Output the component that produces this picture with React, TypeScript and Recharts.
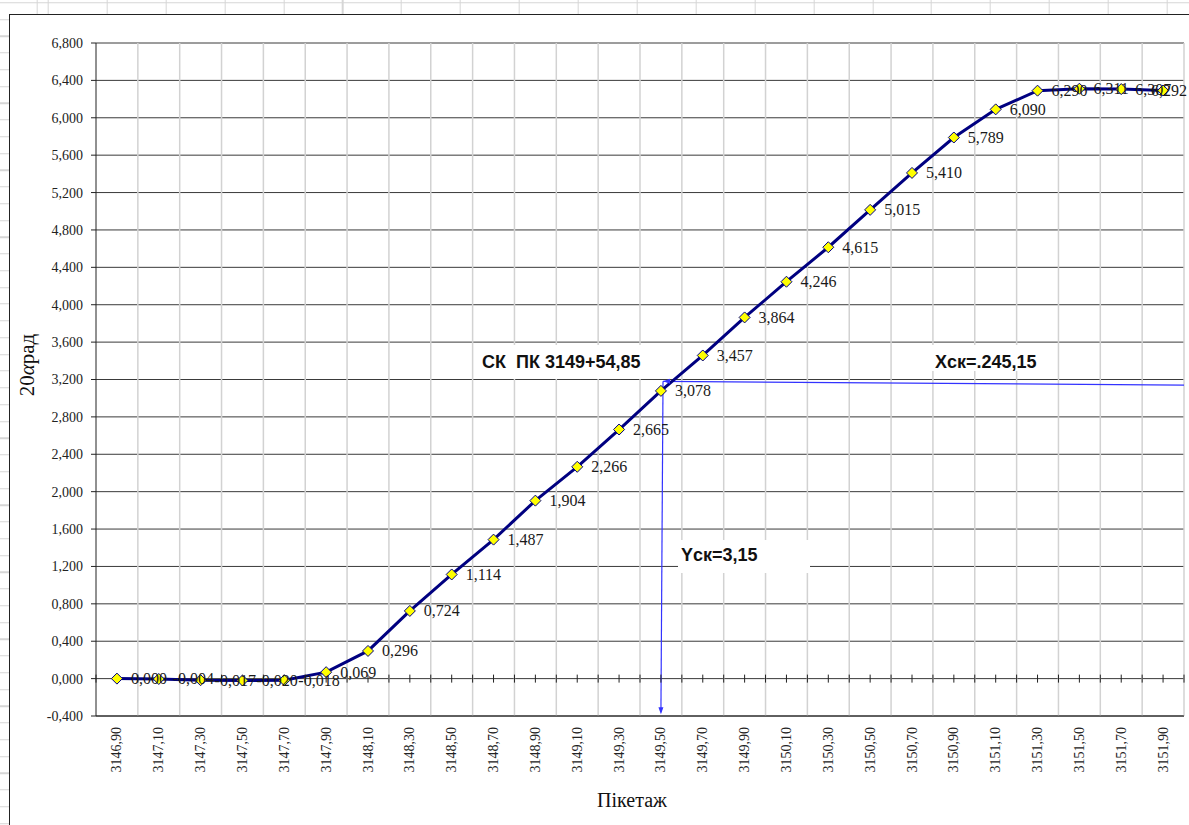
import React from 'react';
import {
  ComposedChart,
  Line,
  Scatter,
  XAxis,
  YAxis,
  CartesianGrid,
  ReferenceLine,
  ReferenceDot,
  LabelList,
} from 'recharts';

// ---- data ----
const stations = [
  '3146,90', '3147,10', '3147,30', '3147,50', '3147,70', '3147,90', '3148,10',
  '3148,30', '3148,50', '3148,70', '3148,90', '3149,10', '3149,30', '3149,50',
  '3149,70', '3149,90', '3150,10', '3150,30', '3150,50', '3150,70', '3150,90',
  '3151,10', '3151,30', '3151,50', '3151,70', '3151,90',
];
const angleValues = [
  0.0, -0.004, -0.017, -0.02, -0.018, 0.069, 0.296, 0.724, 1.114, 1.487, 1.904,
  2.266, 2.665, 3.078, 3.457, 3.864, 4.246, 4.615, 5.015, 5.41, 5.789, 6.09,
  6.29, 6.311, 6.307, 6.292,
];
const yTicks = [
  -0.4, 0, 0.4, 0.8, 1.2, 1.6, 2.0, 2.4, 2.8, 3.2, 3.6, 4.0, 4.4, 4.8, 5.2, 5.6,
  6.0, 6.4, 6.8,
];
// annotation anchors (category index units / value units)
const skStart = { x: 13.05, y: 3.18 };
const skRightEnd = { x: 25.5, y: 3.14 };
const skBottomEnd = { x: 13.0, y: -0.36 };

const rows = stations.map((s, i) => ({ idx: i, station: s, value: angleValues[i] }));
const boundaries = stations.map((_, i) => i + 0.5);
const crossTicks = stations
  .flatMap((_, i) => [i - 0.5, i])
  .concat([stations.length - 0.5])
  .map((p) => ({ idx: p, value: 0 }));

const fmt = (v: number) => v.toFixed(3).replace('.', ',');

const SERIF = "'Liberation Serif', 'Times New Roman', serif";
const SANS = "'Liberation Sans', Arial, sans-serif";
const BLUE = '#3333ff';
const CHART_W = 1189;

const Diamond = (props: any) => {
  const { cx, cy } = props;
  if (cx == null || cy == null) return null;
  const r = 5.5;
  return (
    <polygon
      points={`${cx},${cy - r} ${cx + r},${cy} ${cx},${cy + r} ${cx - r},${cy}`}
      fill="#ffff00"
      stroke="#000080"
      strokeWidth={1}
    />
  );
};

const TickMark = (props: any) => {
  const { cx, cy } = props;
  if (cx == null || cy == null) return null;
  return <line x1={cx} x2={cx} y1={cy - 4} y2={cy + 4} stroke="#222" strokeWidth={1} />;
};

const StationTick = (props: any) => {
  const { x, y, payload } = props;
  const ty = y + 11;
  return (
    <text
      x={x}
      y={ty}
      transform={`rotate(-90 ${x} ${ty})`}
      textAnchor="end"
      dominantBaseline="central"
      fontFamily={SERIF}
      fontSize={14}
      fill="#222"
    >
      {stations[payload.value]}
    </text>
  );
};

const ValueLabel = (props: any) => {
  const x = props.x ?? props.viewBox?.x;
  const y = props.y ?? props.viewBox?.y;
  if (x == null || y == null) return null;
  const txt = fmt(Number(props.value));
  const approxW = txt.length * 7.4;
  // keep the label inside the chart area like the spreadsheet does
  const lx = Math.min(x + 14, CHART_W - 1 - approxW);
  return (
    <text
      x={lx}
      y={y}
      dominantBaseline="central"
      fontFamily={SERIF}
      fontSize={16}
      fill="#1a1a1a"
    >
      {txt}
    </text>
  );
};

const LeftArrow = (props: any) => {
  const { cx, cy } = props;
  return (
    <polygon
      points={`${cx},${cy} ${cx + 7},${cy - 2.5} ${cx + 7},${cy + 2.5}`}
      fill={BLUE}
    />
  );
};

const DownArrow = (props: any) => {
  const { cx, cy } = props;
  return (
    <polygon
      points={`${cx},${cy + 2} ${cx - 2.5},${cy - 5} ${cx + 2.5},${cy - 5}`}
      fill={BLUE}
    />
  );
};

const Note = ({ box, text, tx, ty }: any) => (
  <>
    <div
      style={{
        position: 'absolute',
        left: box[0],
        top: box[1],
        width: box[2],
        height: box[3],
        background: '#fff',
      }}
    />
    <div
      style={{
        position: 'absolute',
        left: tx,
        top: ty - 12,
        height: 24,
        lineHeight: '24px',
        fontFamily: SANS,
        fontWeight: 'bold',
        fontSize: 18,
        color: '#111',
        whiteSpace: 'pre',
      }}
    >
      {text}
    </div>
  </>
);

export default function App() {
  return (
    <div
      style={{
        position: 'absolute',
        left: 0,
        top: 0,
        width: 1189,
        height: 825,
        overflow: 'hidden',
        backgroundColor: '#fff',
        backgroundImage:
          'repeating-linear-gradient(90deg, #d6d6d6 0 1px, transparent 1px 58.9px), repeating-linear-gradient(180deg, #d6d6d6 0 1px, transparent 1px 16.75px)',
        backgroundPosition: '47.7px 0, 0 2.25px',
      }}
    >
      <div
        style={{
          position: 'absolute',
          left: 9,
          top: 14,
          width: 1200,
          height: 840,
          background: '#fff',
          borderLeft: '1px solid #222',
          borderTop: '1px solid #222',
        }}
      />
      <div style={{ position: 'absolute', left: 0, top: 0 }}>
        <ComposedChart
          width={CHART_W}
          height={825}
          data={rows}
          margin={{ top: 43, right: 5, bottom: 9, left: 10 }}
        >
          {boundaries.map((b) => (
            <ReferenceLine key={b} x={b} stroke="#d2d2d2" strokeWidth={1.5} />
          ))}
          <CartesianGrid vertical={false} stroke="#3a3a3a" strokeWidth={1} />
          <XAxis
            type="number"
            dataKey="idx"
            domain={[-0.5, stations.length - 0.5]}
            ticks={stations.map((_, i) => i)}
            interval={0}
            tickSize={0}
            tickMargin={0}
            tickLine={false}
            height={100}
            tick={<StationTick />}
            axisLine={{ stroke: '#222' }}
          />
          <YAxis
            type="number"
            domain={[-0.4, 6.8]}
            ticks={yTicks}
            interval={0}
            width={86}
            tickSize={5}
            tickMargin={8}
            tickFormatter={fmt}
            tick={{ fontFamily: SERIF, fontSize: 14, fill: '#222' }}
            tickLine={{ stroke: '#222' }}
            axisLine={{ stroke: '#222' }}
          />
          <Scatter
            data={crossTicks}
            dataKey="value"
            shape={<TickMark />}
            isAnimationActive={false}
          />
          <ReferenceLine segment={[skStart, skRightEnd]} stroke={BLUE} strokeWidth={1.2} />
          <ReferenceLine segment={[skStart, skBottomEnd]} stroke={BLUE} strokeWidth={1.2} />
          <ReferenceDot x={skStart.x} y={skStart.y} shape={<LeftArrow />} />
          <ReferenceDot x={skBottomEnd.x} y={skBottomEnd.y} shape={<DownArrow />} />
          <Line
            type="linear"
            dataKey="value"
            stroke="#000080"
            strokeWidth={3}
            dot={<Diamond />}
            activeDot={false}
            isAnimationActive={false}
          >
            <LabelList dataKey="value" content={<ValueLabel />} />
          </Line>
        </ComposedChart>
      </div>

      <Note box={[478, 345, 182, 34]} text={'СК  ПК 3149+54,85'} tx={482} ty={362} />
      <Note box={[931, 345, 115, 26]} text={'Xск=.245,15'} tx={935} ty={362} />
      <Note box={[678, 540, 132, 33]} text={'Yск=3,15'} tx={681} ty={555} />

      <div
        style={{
          position: 'absolute',
          left: 532,
          top: 788,
          width: 200,
          textAlign: 'center',
          fontFamily: SERIF,
          fontSize: 20,
          lineHeight: '24px',
          color: '#111',
        }}
      >
        Пікетаж
      </div>
      <div
        style={{
          position: 'absolute',
          left: 27 - 60,
          top: 365 - 12,
          width: 120,
          height: 24,
          lineHeight: '24px',
          textAlign: 'center',
          fontFamily: SERIF,
          fontSize: 21,
          color: '#111',
          transform: 'rotate(-90deg)',
        }}
      >
        20<i>α</i>рад
      </div>
    </div>
  );
}
